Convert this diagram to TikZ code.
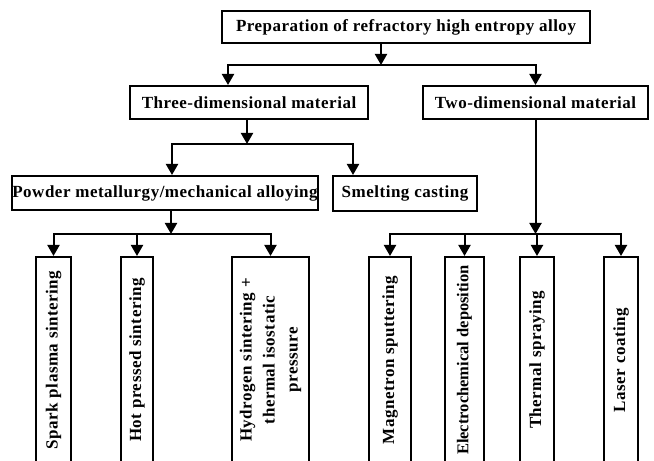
\documentclass[tikz,border=0pt]{standalone}
\usepackage{fontspec}
\setmainfont{Liberation Serif}
\newfontfamily\boxfont[LetterSpace=3]{Liberation Serif}
\newfontfamily\tightfont{Liberation Serif}
\usetikzlibrary{arrows.meta}

\begin{document}
\begin{tikzpicture}[x=1bp,y=-1bp,
    box/.style={draw,line width=2bp,inner sep=0pt,align=center,
        font={\boxfont\bfseries\fontsize{17bp}{23bp}\selectfont}},
    vbox/.style={box,rotate=90,minimum width=206bp},
    arr/.style={line width=2bp,-{Triangle[width=12bp,length=11bp]}}]
    \useasboundingbox (0,0) rectangle (654,461);
    \clip (0,0) rectangle (654,461);
    \node[box,minimum width=368bp,minimum height=32bp] (prep) at (406,27) {Preparation of refractory high entropy alloy};
    \node[box,minimum width=238bp,minimum height=33bp] (three) at (249,102.5) {Three-dimensional material};
    \node[box,minimum width=225bp,minimum height=33bp] (two) at (535.5,102.5) {Two-dimensional material};
    \node[box,minimum width=302bp,minimum height=34bp] (powder) at (165,193) {Powder metallurgy/mechanical alloying};
    \node[box,minimum width=144bp,minimum height=35bp] (smelt) at (405,193.5) {Smelting casting};
    \node[vbox,minimum height=35bp] (spark) at (53.5,360) {Spark plasma sintering};
    \node[vbox,minimum height=32bp] (hot) at (137,360) {Hot pressed sintering};
    \node[vbox,minimum height=77bp] (hydro) at (270.5,360) {Hydrogen sintering +\\thermal isostatic\\pressure};
    \node[vbox,minimum height=42bp] (magn) at (390,360) {Magnetron sputtering};
    \node[vbox,minimum height=39bp,font={\tightfont\bfseries\fontsize{16.5bp}{23bp}\selectfont}] (electro) at (464.5,360) {Electrochemical deposition};
    \node[vbox,minimum height=34bp] (thermal) at (537,360) {Thermal spraying};
    \node[vbox,minimum height=34bp] (laser) at (621,360) {Laser coating};
    \coordinate (j1) at (381,65);
    \coordinate (c3) at (228,0);
    \coordinate (j2) at (247,144);
    \coordinate (cp) at (172,0);
    \coordinate (cs) at (353,0);
    \coordinate (j3) at (171,234);
    \coordinate (j4) at (535.5,234);
    \draw[arr] (prep.south -| j1) -- (j1);
    \draw[arr] (j1) -| (three.north -| c3);
    \draw[arr] (j1) -| (two.north);
    \draw[arr] (three.south -| j2) -- (j2);
    \draw[arr] (j2) -| (powder.north -| cp);
    \draw[arr] (j2) -| (smelt.north -| cs);
    \draw[arr] (powder.south -| j3) -- (j3);
    \draw[arr] (j3) -| (spark.east);
    \draw[arr] (j3) -| (hot.east);
    \draw[arr] (j3) -| (hydro.east);
    \draw[arr] (two.south) -- (j4);
    \draw[arr] (j4) -| (magn.east);
    \draw[arr] (j4) -| (electro.east);
    \draw[arr] (j4) -| (thermal.east);
    \draw[arr] (j4) -| (laser.east);
\end{tikzpicture}
\end{document}
